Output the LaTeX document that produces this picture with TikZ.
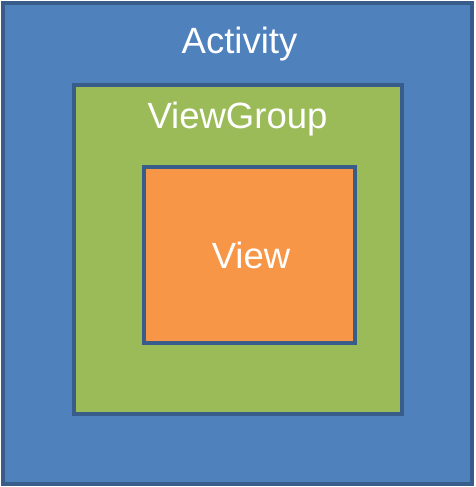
\documentclass[tikz,border=0pt]{standalone}
\usepackage{fontspec}
\setmainfont{Liberation Sans}
\usepackage{tikz}
\usetikzlibrary{positioning}
\definecolor{actblue}{HTML}{4F81BD}
\definecolor{edgeblue}{HTML}{385D8A}
\definecolor{grpgreen}{HTML}{9BBB59}
\definecolor{vieworange}{HTML}{F79646}
\tikzset{layer/.style={draw=edgeblue,line width=4pt},
  lbl/.style={text=white,anchor=base,inner sep=0pt,font=\fontsize{36.5}{40}\selectfont}}

\begin{document}
\begin{tikzpicture}[x=1pt,y=-1pt]%nested layers
\useasboundingbox (0,0) rectangle (475,487);
%outer box
\draw[layer,fill=actblue] (2.7,2.7) rectangle (472.3,484.3);
\node[lbl] (act) at (239.5,54) {Activity};
%middle box
\draw[layer,fill=grpgreen] (74,85) rectangle (401.7,413.7);
\node[lbl] (grp) at (237.5,128.3) {ViewGroup};
%inner box
\draw[layer,fill=vieworange] (144,166.5) rectangle (354.7,343);
\node[lbl] (view) at (251,268.3) {View};
\end{tikzpicture}
\end{document}
